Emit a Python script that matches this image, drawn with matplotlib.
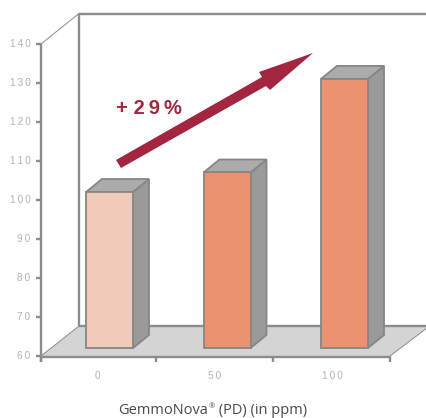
import matplotlib
matplotlib.use('Agg')
import matplotlib.pyplot as plt

# values
categories = ['0', '50', '100']
values = [100, 105, 129]
bar_colors = ['#f1cbb9', '#eb9271', '#eb9271']
y_ticks = [60, 70, 80, 90, 100, 110, 120, 130, 140]

W, H = 427, 418
Y_SCALE = 3.9     # pixels per unit
X_SCALE = 117.5   # pixels per category
X0, Y60 = 109.5, 356

LINE = '#8a8c8e'
LABEL = '#b1b3b8'
WINE = '#a3253f'
XLABEL = '#4a4a4c'


def spaced(s):
    return '\u2009'.join(s)


def xp(px):
    # pixel column to category position
    return (px - X0) / X_SCALE


def yp(py):
    # pixel row to axis value
    return 60 + (Y60 - py) / Y_SCALE


def fill_px(ax, pts, **kw):
    ax.fill([xp(p[0]) for p in pts], [yp(p[1]) for p in pts], **kw)


def line_px(ax, xs, ys, color=LINE, lw=1.7, z=2):
    ax.plot([xp(x) for x in xs], [yp(y) for y in ys], color=color, lw=lw,
            solid_capstyle='butt', zorder=z)


fig = plt.figure(figsize=(W / 100, H / 100), dpi=100)
ax = fig.add_axes([0, 0, 1, 1])
ax.set_xlim(xp(0), xp(W))
ax.set_ylim(yp(H), yp(0))
ax.axis('off')

# floor and walls
fill_px(ax, [(41, 356), (390, 356), (430, 326), (79, 326)], fc='#d4d4d4', ec='none', zorder=1)
line_px(ax, [79, 79, 427], [326, 13.5, 13.5])
line_px(ax, [79, 427], [326, 326])
line_px(ax, [41, 79], [44, 13.5], lw=0.7)
line_px(ax, [41, 79], [356, 326], lw=0.7)
line_px(ax, [390, 427], [356, 328], lw=0.7)

# left axis
line_px(ax, [41, 41], [44, 362], z=5)
for t in y_ticks:
    py = Y60 - (t - 60) * Y_SCALE
    line_px(ax, [36, 41], [py, py], z=5)
    ax.text(xp(30.5), t, spaced(str(t)), ha='right', va='center', fontsize=7.2,
            family='Liberation Sans', color=LABEL)

# bottom axis
line_px(ax, [41, 390], [356.5, 356.5], z=5)
for px in [41, 156, 273, 390]:
    line_px(ax, [px, px], [356, 362], z=5)

# bars, front face sits a little in front of the axis plane
half = 23.5 / X_SCALE
depth_x = 16 / X_SCALE
depth_y = 13 / Y_SCALE
shift = 8 / Y_SCALE
base = 60
edge = dict(ec='#868686', lw=1.3, joinstyle='miter')
for i, (v, c) in enumerate(zip(values, bar_colors)):
    left, right = i - half, i + half
    low, top = base + shift, v + shift
    ax.fill([right, right + depth_x, right + depth_x, right],
            [low, low + depth_y, top + depth_y, top], fc='#9a9a9a', zorder=3, **edge)
    ax.fill([left, right, right + depth_x, left + depth_x],
            [top, top, top + depth_y, top + depth_y], fc='#ababab', zorder=3, **edge)
    ax.fill([left, right, right, left], [low, low, top, top], fc=c, zorder=4, **edge)
    ax.text(i - 12 / X_SCALE, yp(376), spaced(categories[i]), ha='center', va='center',
            fontsize=7.2, family='Liberation Sans', color=LABEL)

# rising arrow and label
fill_px(ax, [(116, 160), (262, 77), (259, 72), (313, 53), (270, 90), (266, 86), (121, 168)],
        fc=WINE, ec='none', zorder=6)
ax.text(xp(116.5), yp(108.5), '+ 2\u20099\u2009%', ha='left', va='center', fontsize=14.5,
        fontweight='bold', family='Liberation Sans', color=WINE, zorder=6)

# x label, the registered sign is a small raised mark
base_y = yp(413.5)
renderer = fig.canvas.get_renderer()
t1 = ax.text(xp(118), base_y, 'GemmoNova', ha='left', va='baseline',
             fontsize=10.5, family='Open Sans', color=XLABEL)
end = t1.get_window_extent(renderer).x1
ax.text(xp(end + 0.5), yp(408.5), '®', ha='left', va='baseline',
        fontsize=5.5, family='Open Sans', color=XLABEL)
ax.text(xp(end + 7.5), base_y, ' (PD) (in ppm)', ha='left', va='baseline',
        fontsize=10.5, family='Open Sans', color=XLABEL)

fig.savefig('out.png', dpi=100)
